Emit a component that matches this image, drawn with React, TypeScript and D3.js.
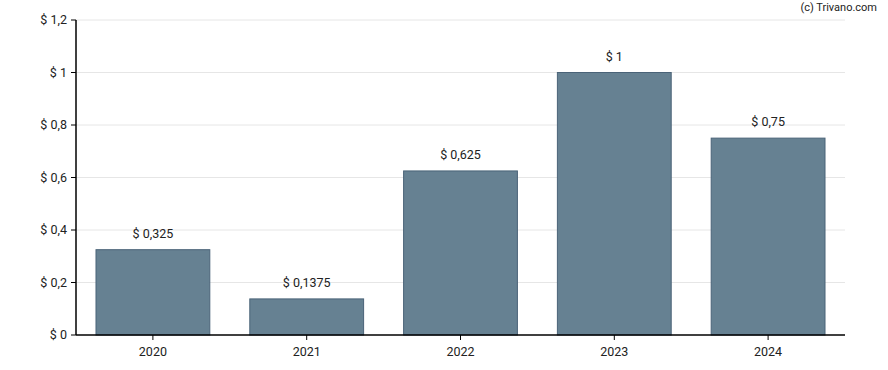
import React from "react";
import * as d3 from "d3";

// data
const years = ["2020", "2021", "2022", "2023", "2024"];
const dividends = [0.325, 0.1375, 0.625, 1, 0.75];
const yTicks = [0, 0.2, 0.4, 0.6, 0.8, 1, 1.2];

const fmt = (v: number) => "$ " + String(v).replace(".", ",");

const App = () => {
  const width = 888;
  const height = 370;
  const margin = { top: 20, right: 43, bottom: 35, left: 76 };
  const innerW = width - margin.left - margin.right;
  const innerH = height - margin.top - margin.bottom;

  const x = d3.scaleBand().domain(years).range([0, innerW]).paddingInner(0.26).paddingOuter(0.13);
  const y = d3.scaleLinear().domain([0, 1.2]).range([innerH, 0]);

  const font = "Roboto, 'Liberation Sans', Arial, sans-serif";

  return (
    <svg
      width={width}
      height={height}
      style={{ position: "absolute", left: 0, top: 0, fontFamily: font }}
    >
      <text x={877} y={11} textAnchor="end" fontSize={11} fill="#222">
        (c) Trivano.com
      </text>
      <g transform={`translate(${margin.left},${margin.top})`}>
        {yTicks.map((t) => (
          <g key={t} transform={`translate(0,${y(t)})`}>
            {t > 0 && <line x1={0} x2={innerW} stroke="#e6e6e6" strokeWidth={1} />}
            <line x1={-5} x2={0} stroke="#000" strokeWidth={1} />
            <text x={-9} dy="0.35em" textAnchor="end" fontSize={12.5} fill="#222">
              {fmt(t)}
            </text>
          </g>
        ))}
        {years.map((yr, i) => (
          <g key={yr}>
            <rect
              x={x(yr)}
              y={y(dividends[i])}
              width={x.bandwidth()}
              height={innerH - y(dividends[i])}
              fill="#668192"
              stroke="#4a6378"
              strokeWidth={1}
            />
            <text
              x={(x(yr) as number) + x.bandwidth() / 2}
              y={y(dividends[i]) - 12}
              textAnchor="middle"
              fontSize={12.5}
              fill="#222"
            >
              {fmt(dividends[i])}
            </text>
            <line
              x1={(x(yr) as number) + x.bandwidth() / 2}
              x2={(x(yr) as number) + x.bandwidth() / 2}
              y1={innerH}
              y2={innerH + 5}
              stroke="#000"
            />
            <text
              x={(x(yr) as number) + x.bandwidth() / 2}
              y={innerH + 21}
              textAnchor="middle"
              fontSize={12.5}
              fill="#222"
            >
              {yr}
            </text>
          </g>
        ))}
        <line x1={0} x2={0} y1={0} y2={innerH} stroke="#000" strokeWidth={1.5} />
        <line x1={0} x2={innerW} y1={innerH} y2={innerH} stroke="#000" strokeWidth={1.5} />
      </g>
    </svg>
  );
};

export default App;
